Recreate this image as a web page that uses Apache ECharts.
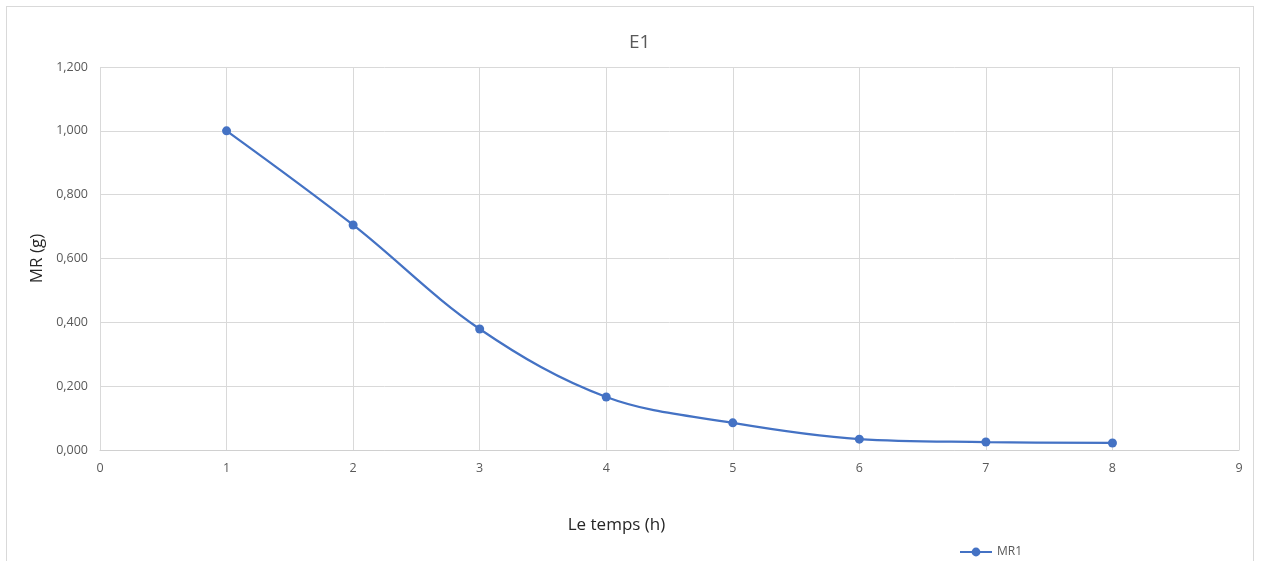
<!DOCTYPE html>
<html>
<head>
<meta charset="utf-8">
<script src="https://cdn.jsdelivr.net/npm/echarts@6/dist/echarts.min.js"></script>
<style>
  html, body { margin: 0; padding: 0; background: #fff; }
  #frame { position: absolute; left: 6px; top: 6px; width: 1248px; height: 560px; border: 1px solid #d9d9d9; box-sizing: border-box; }
  #chart { width: 1261px; height: 561px; position: absolute; left: 0; top: 0; }
</style>
</head>
<body>
<div id="frame"></div>
<div id="chart"></div>
<script>
// Hours and measured MR values (g)
const hours = [1, 2, 3, 4, 5, 6, 7, 8];
const mr1 = [1.000, 0.705, 0.379, 0.166, 0.085, 0.034, 0.025, 0.022];
const seriesName = 'MR1';

const FONT = '"Open Sans", "Noto Sans", sans-serif';
const fmt = v => v.toFixed(3).replace('.', ',');

const chart = echarts.init(document.getElementById('chart'), null, { renderer: 'canvas' });
chart.setOption({
  animation: false,
  backgroundColor: 'transparent',
  title: {
    text: 'E1',
    left: 624,
    top: 28,
    textStyle: { fontFamily: FONT, fontSize: 19, fontWeight: 'normal', color: '#595959' }
  },
  legend: {
    data: [seriesName],
    left: 954,
    top: 541,
    itemWidth: 32,
    itemHeight: 11,
    itemGap: 4,
    textStyle: { fontFamily: FONT, fontSize: 12, color: '#595959' }
  },
  grid: { left: 100, right: 22, top: 67, bottom: 111, containLabel: false },
  xAxis: {
    type: 'value',
    min: 0, max: 9, interval: 1,
    name: 'Le temps (h)',
    nameLocation: 'middle',
    nameGap: 67,
    nameTextStyle: { fontFamily: FONT, fontSize: 17, color: '#262626', padding: [0, 106, 0, 0] },
    axisLine: { show: true, lineStyle: { color: '#d0d0d0', width: 1 } },
    axisTick: { show: false },
    axisLabel: { fontFamily: FONT, fontSize: 12.5, color: '#595959', margin: 12 },
    splitLine: { show: true, lineStyle: { color: '#d9d9d9', width: 1 } }
  },
  yAxis: {
    type: 'value',
    min: 0, max: 1.2, interval: 0.2,
    name: 'MR (g)',
    nameLocation: 'middle',
    nameGap: 52,
    nameTextStyle: { fontFamily: FONT, fontSize: 17, color: '#262626' },
    axisLine: { show: false },
    axisTick: { show: false },
    axisLabel: { fontFamily: FONT, fontSize: 12.5, color: '#595959', margin: 12, formatter: fmt },
    splitLine: { show: true, lineStyle: { color: '#d9d9d9', width: 1 } }
  },
  series: [{
    name: seriesName,
    type: 'line',
    data: hours.map((h, i) => [h, mr1[i]]),
    smooth: 0.35,
    symbol: 'circle',
    symbolSize: 9,
    lineStyle: { color: '#4472C4', width: 2.25 },
    itemStyle: { color: '#4472C4' }
  }]
});
</script>
</body>
</html>
